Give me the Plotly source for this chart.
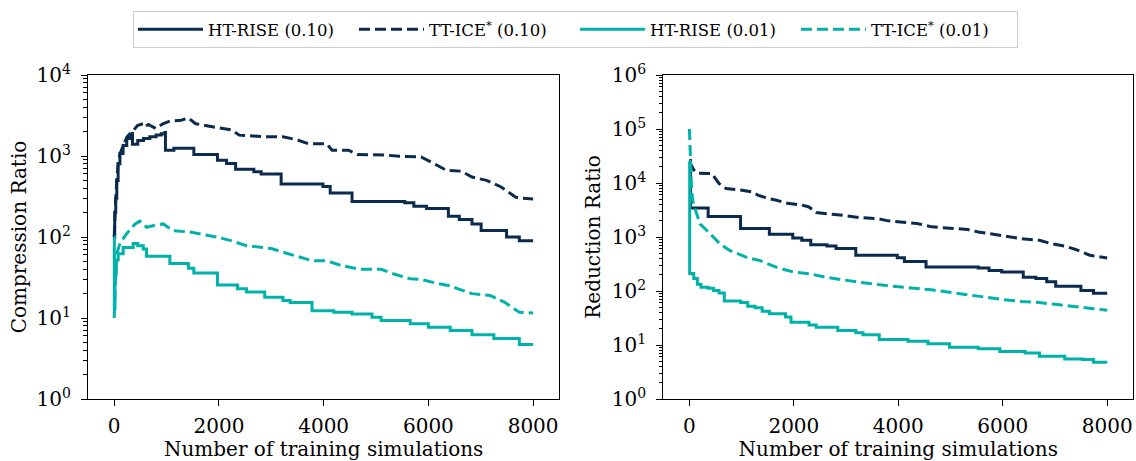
import plotly.graph_objects as go

# ---------------- data ----------------
# Left panel: Compression Ratio
cr_ht10_x = [0, 10, 30, 50, 75, 110, 170, 240, 300, 345, 350, 450, 560, 680, 800, 900, 968, 979, 1140,
             1521, 1972, 2146, 2319, 2667, 2806, 3188, 3986, 4125, 4542, 5549, 5722, 5965, 6382, 6590,
             6833, 7007, 7493, 7736, 8000]
cr_ht10_y = [100, 200, 300, 500, 800, 1070, 1350, 1650, 1800, 1900, 1400, 1550, 1650, 1730, 1820, 1880,
             1950, 1180, 1250, 1040, 885, 810, 685, 640, 600, 450, 420, 350, 275, 264, 240, 225, 180, 165,
             145, 120, 100, 90, 90]

cr_tt10_x = [0, 10, 30, 50, 75, 110, 170, 240, 306, 350, 444, 549, 583, 653, 792, 931, 1069, 1278, 1417,
             1556, 1972, 2250, 2389, 2875, 3222, 3500, 3708, 4055, 4160, 4472, 4646, 5166, 5444, 5653,
             5861, 6139, 6347, 6625, 6833, 7111, 7389, 7667, 7805, 8000]
cr_tt10_y = [100, 200, 300, 500, 800, 1070, 1350, 1700, 1900, 2000, 2380, 2500, 2300, 2450, 2190, 2500,
             2700, 2760, 2960, 2500, 2240, 2090, 1810, 1730, 1730, 1580, 1420, 1420, 1180, 1180, 1045,
             1030, 990, 975, 975, 785, 665, 650, 550, 500, 415, 310, 300, 295]

cr_ht01_x = [0, 3, 15, 40, 76, 172, 363, 450, 554, 618, 1063, 1417, 1521, 1972, 2354, 2528, 2875, 3222,
             3361, 3778, 4194, 4542, 4924, 5097, 5653, 6000, 6417, 6833, 7250, 7736, 8000]
cr_ht01_y = [100, 13, 35, 52, 62, 74, 83, 78, 71, 58, 47, 41, 36, 25.5, 23, 21, 18, 16.5, 15.5, 12.3,
             11.8, 11.2, 10.2, 9.3, 8.5, 7.7, 7.0, 6.2, 5.6, 4.7, 4.7]

cr_tt01_x = [0, 30, 60, 109, 237, 400, 490, 618, 780, 935, 1127, 1445, 1955, 2210, 2528, 2806, 3000,
             3292, 3778, 4055, 4333, 4680, 5097, 5305, 5653, 5861, 6139, 6417, 6555, 6833, 7180, 7458,
             7736, 8000]
cr_tt01_y = [10, 40, 65, 83, 110, 145, 157, 132, 140, 145, 120, 115, 100, 91, 78, 74, 72, 63, 51, 51,
             44.5, 40, 40, 35.5, 30.5, 30, 27, 25, 23, 20, 19, 15.6, 11.8, 11.5]

# Right panel: Reduction Ratio
rr_ht10_x = [0, 20, 359, 979, 1531, 1979, 2152, 2324, 2634, 2807, 3186, 3980, 4117, 4531, 5531, 5738,
             5979, 6393, 6635, 6842, 7014, 7497, 7738, 8000]
rr_ht10_y = [26000, 3450, 2400, 1430, 1120, 960, 870, 720, 680, 610, 460, 415, 350, 277, 268, 240, 225,
             180, 170, 148, 123, 102, 91, 91]

rr_tt10_x = [0, 83, 152, 428, 566, 703, 979, 1186, 1324, 1531, 1669, 1876, 2152, 2290, 2428, 2704, 2979,
             3255, 3600, 3807, 4083, 4359, 4635, 4911, 5324, 5531, 5807, 6083, 6359, 6704, 6911, 7187,
             7393, 7669, 8000]
rr_tt10_y = [25000, 17500, 15200, 15000, 9800, 7900, 7400, 6900, 5900, 5100, 4800, 4200, 3900, 3600,
             2830, 2700, 2500, 2290, 2190, 1990, 1910, 1780, 1540, 1480, 1380, 1240, 1120, 1030, 930, 870,
             760, 680, 590, 460, 410]

rr_ht01_x = [0, 5, 83, 152, 221, 359, 462, 566, 669, 979, 1117, 1255, 1393, 1531, 1841, 1945, 2290,
             2428, 2841, 3186, 3324, 3635, 4186, 4566, 4980, 5531, 5945, 6428, 6704, 7187, 7531, 7738,
             8000]
rr_ht01_y = [25000, 210, 170, 134, 117, 112, 102, 92, 65, 61, 52, 49, 42, 38, 33, 26.5, 23.5, 21.3,
             18.5, 16.9, 15.5, 12.7, 11.7, 10.5, 9.1, 8.5, 7.6, 7.1, 6.2, 5.5, 5.4, 4.8, 4.8]

rr_tt01_x = [0, 20, 44, 75, 203, 395, 586, 778, 1097, 1353, 1673, 1990, 2310, 2630, 3015, 3270, 3807,
             4290, 4635, 4980, 5324, 5669, 6014, 6359, 6704, 7049, 7393, 7738, 8000]
rr_tt01_y = [100000, 20000, 6700, 4150, 1750, 1150, 745, 560, 420, 365, 273, 225, 208, 178, 155, 145,
             125, 114, 105, 95, 85, 77, 69, 64, 61, 56, 52, 47, 44]

x_ticks = [0, 2000, 4000, 6000, 8000]
left_y_ticks = [1, 10, 100, 1000, 10000]
right_y_ticks = [1, 10, 100, 1000, 10000, 100000, 1000000]

names = ["HT-RISE (0.10)", "TT-ICE<sup>*</sup> (0.10)", "HT-RISE (0.01)", "TT-ICE<sup>*</sup> (0.01)"]

# ---------------- style ----------------
DARK = "#0a2b4e"
TEAL = "#00b2a9"
FONT = "DejaVu Serif"
LW = 3
DASH = "11px,5px"
FS = 20

fig = go.Figure()


def add(x, y, name, color, dash, xa, ya, show, shape):
    fig.add_trace(go.Scatter(
        x=x, y=y, mode="lines", name=name, showlegend=show, legendgroup=name,
        line=dict(color=color, width=LW, dash=dash, shape=shape),
        xaxis=xa, yaxis=ya))


add(cr_ht10_x, cr_ht10_y, names[0], DARK, "solid", "x", "y", True, "hv")
add(cr_tt10_x, cr_tt10_y, names[1], DARK, DASH, "x", "y", True, "linear")
add(cr_ht01_x, cr_ht01_y, names[2], TEAL, "solid", "x", "y", True, "hv")
add(cr_tt01_x, cr_tt01_y, names[3], TEAL, DASH, "x", "y", True, "linear")

add(rr_ht10_x, rr_ht10_y, names[0], DARK, "solid", "x2", "y2", False, "hv")
add(rr_tt10_x, rr_tt10_y, names[1], DARK, DASH, "x2", "y2", False, "linear")
add(rr_ht01_x, rr_ht01_y, names[2], TEAL, "solid", "x2", "y2", False, "hv")
add(rr_tt01_x, rr_tt01_y, names[3], TEAL, DASH, "x2", "y2", False, "linear")

W, H = 1136, 461
L1, R1 = 88 / W, 559.3 / W
L2, R2 = 663.3 / W, 1133.3 / W
B, T = 1 - 399 / H, 1 - 75 / H

axis_common = dict(showline=True, linecolor="black", linewidth=1.2, mirror=True,
                   ticks="outside", ticklen=6, tickwidth=1.2, tickcolor="black",
                   showgrid=False, zeroline=False, automargin=False,
                   tickfont=dict(family=FONT, size=FS, color="black"))

xax = dict(axis_common, range=[-500, 8500], tickvals=x_ticks,
           ticktext=[str(v) for v in x_ticks], ticklabelstandoff=3,
           title=dict(text="Number of training simulations",
                      font=dict(family=FONT, size=FS, color="black"), standoff=11))


def yax(ticks, title, anchor, standoff):
    return dict(axis_common, type="log", range=[0, len(ticks) - 1],
                tickvals=ticks, ticklabelstandoff=6,
                ticktext=["10<sup>%d</sup>" % i for i in range(len(ticks))],
                minor=dict(ticks="outside", ticklen=3.5, tickwidth=1, tickcolor="black",
                           dtick="D1", showgrid=False),
                title=dict(text=title, font=dict(family=FONT, size=FS, color="black"),
                           standoff=standoff),
                anchor=anchor)


fig.update_layout(
    width=W, height=H,
    margin=dict(l=0, r=0, t=0, b=0, autoexpand=False),
    paper_bgcolor="white", plot_bgcolor="white",
    font=dict(family=FONT, size=16, color="black"),
    xaxis=dict(xax, domain=[L1, R1], anchor="y"),
    xaxis2=dict(xax, domain=[L2, R2], anchor="y2"),
    yaxis=dict(yax(left_y_ticks, "Compression Ratio", "x", 4), domain=[B, T]),
    yaxis2=dict(yax(right_y_ticks, "Reduction Ratio", "x2", 5), domain=[B, T]),
    legend=dict(orientation="h", x=133 / W, xanchor="left", y=1 - 11 / H,
                yanchor="top",
                bordercolor="#cccccc", borderwidth=1, bgcolor="white",
                font=dict(family=FONT, size=16.5, color="black"),
                entrywidth=141, entrywidthmode="pixels", itemwidth=65),
)

fig.write_html("out.html",
               config={"displayModeBar": False},
               post_script="document.body.style.margin='0px';"
                           "document.body.style.overflow='hidden';")
